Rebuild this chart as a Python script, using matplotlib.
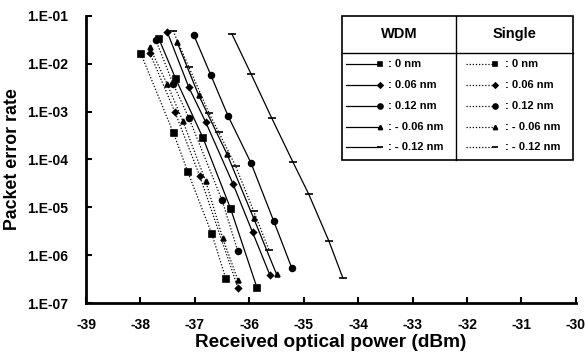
import numpy as np
import matplotlib
matplotlib.use('Agg')
from matplotlib import pyplot as plt
from matplotlib.patches import Rectangle

plt.rcParams['font.family'] = ['Liberation Sans', 'DejaVu Sans']
plt.rcParams['font.weight'] = 'bold'

# WDM (solid lines)
wdm_0_x = [-37.66, -37.35, -36.85, -36.34, -35.86]
wdm_0_y = [3.3e-2, 4.8e-3, 2.8e-4, 9.1e-6, 2.1e-7]
wdm_006_x = [-37.51, -37.11, -36.80, -36.30, -35.94, -35.62]
wdm_006_y = [4.7e-2, 3.2e-3, 6.0e-4, 3.1e-5, 3.0e-6, 3.8e-7]
wdm_012_x = [-37.02, -36.71, -36.39, -35.97, -35.55, -35.22]
wdm_012_y = [4.0e-2, 5.9e-3, 8.1e-4, 8.5e-5, 5.1e-6, 5.4e-7]
wdm_m006_x = [-37.33, -36.93, -36.41, -35.92, -35.50]
wdm_m006_y = [2.9e-2, 2.2e-3, 1.3e-4, 5.9e-6, 4.0e-7]
wdm_m012_x = [-36.32, -35.97, -35.59, -35.20, -34.91, -34.54, -34.28]
wdm_m012_y = [4.2e-2, 6.2e-3, 7.4e-4, 8.9e-5, 1.9e-5, 2.0e-6, 3.3e-7]

# Single (dotted lines)
sgl_0_x = [-37.99, -37.39, -37.13, -36.69, -36.43]
sgl_0_y = [1.6e-2, 3.5e-4, 5.5e-5, 2.8e-6, 3.2e-7]
sgl_006_x = [-37.83, -37.37, -36.91, -36.21]
sgl_006_y = [1.7e-2, 1.0e-3, 4.5e-5, 2.1e-7]
sgl_012_x = [-37.72, -37.40, -37.11, -36.50, -36.21]
sgl_012_y = [3.2e-2, 3.8e-3, 7.4e-4, 1.4e-5, 1.2e-6]
sgl_m006_x = [-37.83, -37.51, -37.22, -36.80, -36.49, -36.21]
sgl_m006_y = [2.2e-2, 3.8e-3, 6.3e-4, 3.5e-5, 2.3e-6, 3.0e-7]
sgl_m012_x = [-37.40, -37.11, -36.74, -36.56, -36.25, -35.92, -35.64]
sgl_m012_y = [4.9e-2, 8.5e-3, 9.3e-4, 3.7e-4, 7.2e-5, 8.3e-6, 1.3e-6]

labels = [': 0 nm', ': 0.06 nm', ': 0.12 nm', ': - 0.06 nm', ': - 0.12 nm']
markers = ['s', 'D', 'o', '^', '_']
msizes = [3.8, 3, 4.2, 3.5, 5.5]

wdm = [(wdm_0_x, wdm_0_y), (wdm_006_x, wdm_006_y), (wdm_012_x, wdm_012_y),
       (wdm_m006_x, wdm_m006_y), (wdm_m012_x, wdm_m012_y)]
single = [(sgl_0_x, sgl_0_y), (sgl_006_x, sgl_006_y), (sgl_012_x, sgl_012_y),
          (sgl_m006_x, sgl_m006_y), (sgl_m012_x, sgl_m012_y)]

fig = plt.figure(figsize=(5.86, 3.6), dpi=100)
ax = fig.add_axes([0.1468, 0.1583, 0.836, 0.7973])

for (x, y), m, ms in zip(wdm, markers, msizes):
    ax.plot(x, y, color='black', lw=0.9, ls='-', marker=m, ms=ms, mew=1.2)
for (x, y), m, ms in zip(single, markers, msizes):
    ax.plot(x, y, color='black', lw=0.9, ls=(0, (1, 1.5)), marker=m, ms=ms, mew=1.2)

ax.set_yscale('log')
ax.set_xlim(-39, -30)
ax.set_ylim(1e-7, 1e-1)
ax.set_xticks(np.arange(-39, -29, 1))
ax.set_xticklabels([str(v) for v in range(-39, -29)])
yt = [10.0 ** e for e in range(-7, 0)]
ax.set_yticks(yt)
ax.set_yticklabels(['1.E-0%d' % -e for e in range(-7, 0)])
ax.minorticks_off()
ax.tick_params(direction='in', length=4, width=1.5, labelsize=10)
ax.tick_params(axis='x', pad=11)
ax.tick_params(axis='y', pad=13)
ax.spines['top'].set_visible(False)
ax.spines['right'].set_visible(False)
ax.spines['left'].set_linewidth(2)
ax.spines['bottom'].set_linewidth(2)
ax.set_xlabel('Received optical power (dBm)', fontsize=13.7, fontweight='bold', labelpad=1)
ax.set_ylabel('Packet error rate', fontsize=12.8, fontweight='bold', labelpad=4)

# legend table, in figure pixel fractions
W, H = 586.0, 360.0
def fx(px):
    return px / W
def fy(py):
    return 1 - py / H

x0, x1, xm = 342, 573, 456
y0, y1, yh = 16, 160, 53
fig.add_artist(Rectangle((fx(x0), fy(y1)), fx(x1) - fx(x0), fy(y0) - fy(y1),
                         transform=fig.transFigure, fill=True, fc='white', ec='black', lw=1.2))
fig.add_artist(plt.Line2D([fx(x0), fx(x1)], [fy(yh), fy(yh)], transform=fig.transFigure, color='black', lw=1))
fig.add_artist(plt.Line2D([fx(xm), fx(xm)], [fy(y0), fy(y1)], transform=fig.transFigure, color='black', lw=1))
fig.text(fx((x0 + xm) / 2), fy(34), 'WDM', ha='center', va='center', fontsize=10.5, fontweight='bold')
fig.text(fx((xm + x1) / 2), fy(34), 'Single', ha='center', va='center', fontsize=10.5, fontweight='bold')

rows = [64, 85, 106, 127, 147]
for i, (lab, m, ms) in enumerate(zip(labels, markers, msizes)):
    yy = fy(rows[i])
    fig.add_artist(plt.Line2D([fx(346), fx(380)], [yy, yy], transform=fig.transFigure, color='black',
                              lw=0.9, marker=m, ms=ms * 0.85, mew=1.2, markevery=[1]))
    fig.text(fx(388), yy, lab, ha='left', va='center', fontsize=8, fontweight='bold')
    fig.add_artist(plt.Line2D([fx(466), fx(495)], [yy, yy], transform=fig.transFigure, color='black',
                              lw=0.9, ls=(0, (1, 1.5)), marker=m, ms=ms * 0.85, mew=1.2, markevery=[1]))
    fig.text(fx(505), yy, lab, ha='left', va='center', fontsize=8, fontweight='bold')

plt.savefig('out.png', dpi=100)
